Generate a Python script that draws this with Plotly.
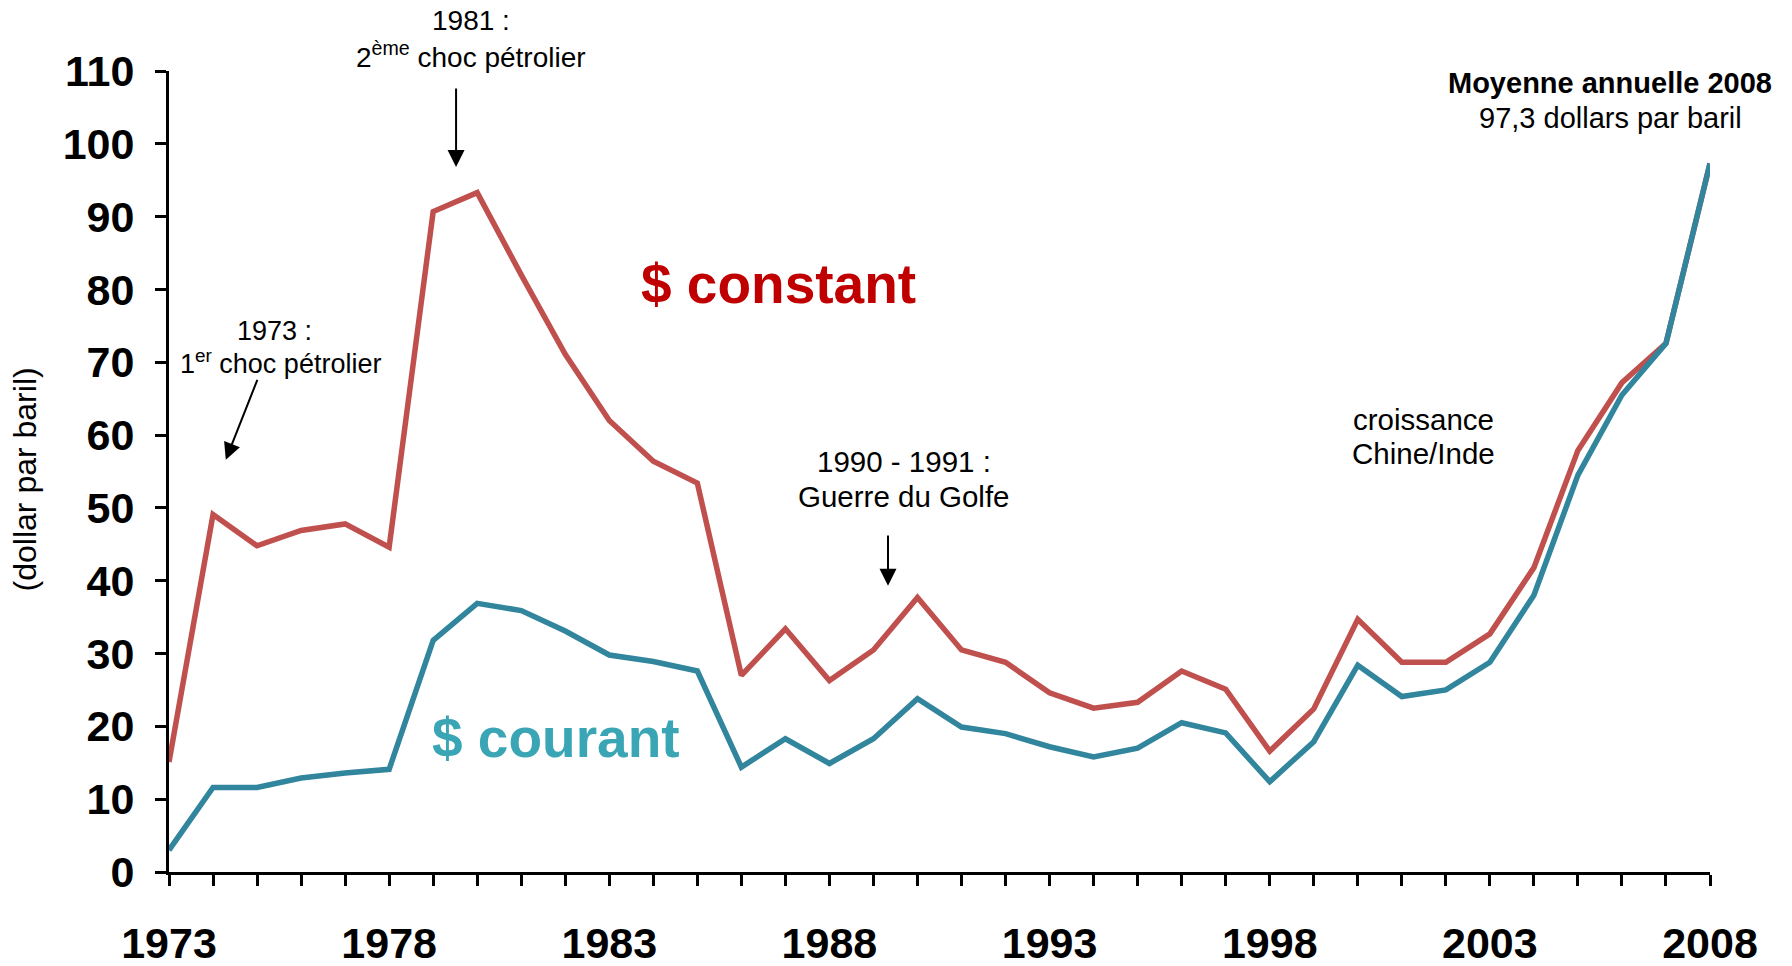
import plotly.graph_objects as go

years = list(range(1973, 2009))

constant_usd = [15.1, 49.1, 44.8, 46.9, 47.8, 44.6, 90.7, 93.3, 82.0, 71.1,
                62.0, 56.4, 53.4, 27.0, 33.4, 26.3, 30.5, 37.7, 30.5, 28.8,
                24.6, 22.5, 23.3, 27.6, 25.1, 16.6, 22.4, 34.7, 28.8, 28.8,
                32.7, 41.8, 57.9, 67.2, 72.6, 97.3]

current_usd = [3.0, 11.6, 11.6, 12.9, 13.6, 14.1, 31.8, 36.9, 35.9, 33.1,
               29.8, 28.9, 27.6, 14.4, 18.3, 14.9, 18.3, 23.8, 19.9, 19.0,
               17.2, 15.8, 17.0, 20.5, 19.1, 12.4, 17.9, 28.4, 24.1, 25.0,
               28.8, 38.0, 54.5, 65.5, 72.6, 97.3]

x_tick_labels = [str(y) if (y - 1973) % 5 == 0 else "" for y in years]
y_ticks = list(range(0, 111, 10))

FONT = "Liberation Sans, Arial, sans-serif"
RED_LINE = "#C0504D"
BLUE_LINE = "#31859C"

fig = go.Figure()
fig.add_trace(go.Scatter(x=years, y=constant_usd, mode="lines",
                         line=dict(color=RED_LINE, width=5.5), name="$ constant",
                         cliponaxis=False))
fig.add_trace(go.Scatter(x=years, y=current_usd, mode="lines",
                         line=dict(color=BLUE_LINE, width=5.5), name="$ courant",
                         cliponaxis=False))

# (text, x in years, y in paper fraction, font size, colour)
text_notes = [
    ("1981 :", 1979.86, 1.0628, 28, "black"),
    ("2<sup>ème</sup> choc pétrolier", 1979.86, 1.0196, 28, "black"),
    ("1973 :", 1975.385, 0.6754, 27, "black"),
    ("1<sup>er</sup> choc pétrolier", 1975.54, 0.6372, 27, "black"),
    ("1990 - 1991 :", 1989.69, 0.5122, 29.5, "black"),
    ("Guerre du Golfe", 1989.69, 0.4694, 29.5, "black"),
    ("croissance", 2001.5, 0.5649, 29.5, "black"),
    ("Chine/Inde", 2001.5, 0.5225, 29.5, "black"),
    ("<b>Moyenne annuelle 2008</b>", 2005.73, 0.9850, 29, "black"),
    ("97,3 dollars par baril", 2005.73, 0.9413, 29, "black"),
    ("<b>$ constant</b>", 1986.85, 0.7341, 55, "#C00000"),
    ("<b>$ courant</b>", 1981.79, 0.1673, 55, "#3AA6B5"),
]
anns = []
for txt, xv, yp, sz, col in text_notes:
    anns.append(dict(x=xv, y=yp, xref="x", yref="paper", text=txt, showarrow=False,
                     xanchor="center", yanchor="middle",
                     font=dict(size=sz, color=col, family=FONT)))

arrows = [
    (1979.52, 96.8, 1979.52, 107.8),
    (1974.29, 56.6, 1975.02, 67.8),
    (1989.33, 39.3, 1989.33, 46.4),
]
for hx, hy, tx, ty in arrows:
    anns.append(dict(x=hx, y=hy, ax=tx, ay=ty, xref="x", yref="y", axref="x", ayref="y",
                     text="", showarrow=True, arrowhead=2, arrowsize=1.7,
                     arrowwidth=2, arrowcolor="black"))

anns.append(dict(x=-0.0935, y=0.490, xref="paper", yref="paper", text="(dollar par baril)",
                 textangle=-90, showarrow=False, xanchor="center", yanchor="middle",
                 font=dict(size=32, color="black", family=FONT)))

fig.update_layout(
    width=1792, height=966,
    margin=dict(l=169, r=82, t=71, b=94),
    paper_bgcolor="white", plot_bgcolor="white",
    showlegend=False,
    annotations=anns,
    xaxis=dict(range=[1973, 2008], tickvals=years, ticktext=x_tick_labels,
               automargin=False,
               showline=True, linecolor="black", linewidth=3,
               ticks="outside", ticklen=11, tickwidth=3, tickcolor="black",
               showgrid=False, zeroline=False, ticklabelstandoff=20,
               tickfont=dict(size=43, color="black", family=FONT, weight="bold")),
    yaxis=dict(range=[0, 110], tickvals=y_ticks, automargin=False,
               showline=True, linecolor="black", linewidth=3,
               ticks="outside", ticklen=11, tickwidth=3, tickcolor="black",
               showgrid=False, zeroline=False, ticklabelstandoff=12,
               tickfont=dict(size=43, color="black", family=FONT, weight="bold")),
)

fig.write_html("out.html", include_plotlyjs=True, config={"displayModeBar": False},
               post_script="document.body.style.margin='0';document.body.style.overflow='hidden';")
